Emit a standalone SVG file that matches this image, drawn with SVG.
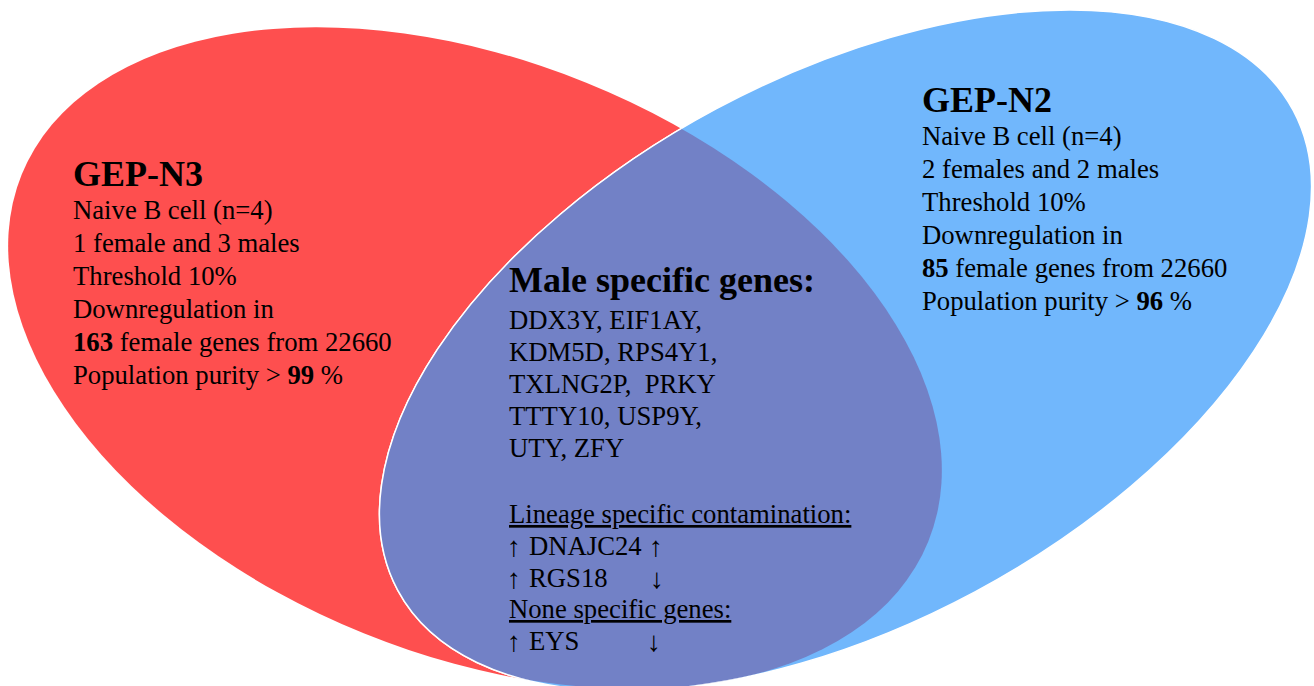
<svg xmlns="http://www.w3.org/2000/svg" width="1314" height="686" viewBox="0 0 1314 686">
  <style>
    text { font-family: "Liberation Serif", "Times New Roman", serif; fill: #000; }
    .title { font-size: 36px; font-weight: bold; }
    .body { font-size: 26.7px; }
    .b { font-weight: bold; }
    .u { text-decoration: underline; }
    .arr { font-size: 28px; }
  </style>
  <defs>
    <clipPath id="redClip">
      <ellipse cx="475" cy="358" rx="489" ry="297" transform="rotate(22 475 358)"/>
    </clipPath>
  </defs>
  <rect width="1314" height="686" fill="#ffffff"/>
  <g id="set-gep-n3">
    <ellipse cx="475" cy="358" rx="489" ry="297" transform="rotate(22 475 358)" fill="#FE4F4F"/>
  </g>
  <g id="set-gep-n2">
    <ellipse cx="845.5" cy="350.4" rx="508" ry="274" transform="rotate(-28.2 845.5 350.4)" fill="#71B7FC" stroke="#ffffff" stroke-width="1.5"/>
  </g>
  <g id="overlap">
    <g clip-path="url(#redClip)">
      <ellipse cx="845.5" cy="350.4" rx="508" ry="274" transform="rotate(-28.2 845.5 350.4)" fill="#7281C6" stroke="#ffffff" stroke-width="1.5"/>
    </g>
  </g>
  <g id="connectors"/>
  <g id="label-gep-n3">
    <text class="title" x="73" y="186">GEP-N3</text>
    <text class="body" x="73" y="218.5">Naive B cell (n=4)</text>
    <text class="body" x="73" y="251.5">1 female and 3 males</text>
    <text class="body" x="73" y="284.5">Threshold 10%</text>
    <text class="body" x="73" y="317.5">Downregulation in</text>
    <text class="body" x="73" y="350.5"><tspan class="b">163</tspan> female genes from 22660</text>
    <text class="body" x="73" y="383.5">Population purity &gt; <tspan class="b">99</tspan> %</text>
  </g>
  <g id="label-gep-n2">
    <text class="title" x="922" y="111.5">GEP-N2</text>
    <text class="body" x="922" y="144.5">Naive B cell (n=4)</text>
    <text class="body" x="922" y="177.5">2 females and 2 males</text>
    <text class="body" x="922" y="210.5">Threshold 10%</text>
    <text class="body" x="922" y="243.5">Downregulation in</text>
    <text class="body" x="922" y="276.5"><tspan class="b">85</tspan> female genes from 22660</text>
    <text class="body" x="922" y="309.5">Population purity &gt; <tspan class="b">96</tspan> %</text>
  </g>
  <g id="label-overlap">
    <text class="title" x="509" y="292">Male specific genes:</text>
    <text class="body" x="509" y="329">DDX3Y, EIF1AY,</text>
    <text class="body" x="509" y="361">KDM5D, RPS4Y1,</text>
    <text class="body" x="509" y="393" xml:space="preserve">TXLNG2P,  PRKY</text>
    <text class="body" x="509" y="425">TTTY10, USP9Y,</text>
    <text class="body" x="509" y="457">UTY, ZFY</text>
    <text class="body u" x="509" y="523">Lineage specific contamination:</text>
    <text class="body" y="555"><tspan class="arr" x="507" dy="1">↑</tspan><tspan x="529" dy="-1">DNAJC24</tspan><tspan class="arr" x="649" dy="1">↑</tspan></text>
    <text class="body" y="587"><tspan class="arr" x="507" dy="1">↑</tspan><tspan x="529" dy="-1">RGS18</tspan><tspan class="arr" x="650" dy="1">↓</tspan></text>
    <text class="body u" x="509" y="618">None specific genes:</text>
    <text class="body" y="650"><tspan class="arr" x="507" dy="1">↑</tspan><tspan x="529" dy="-1">EYS</tspan><tspan class="arr" x="647" dy="1">↓</tspan></text>
  </g>
</svg>
